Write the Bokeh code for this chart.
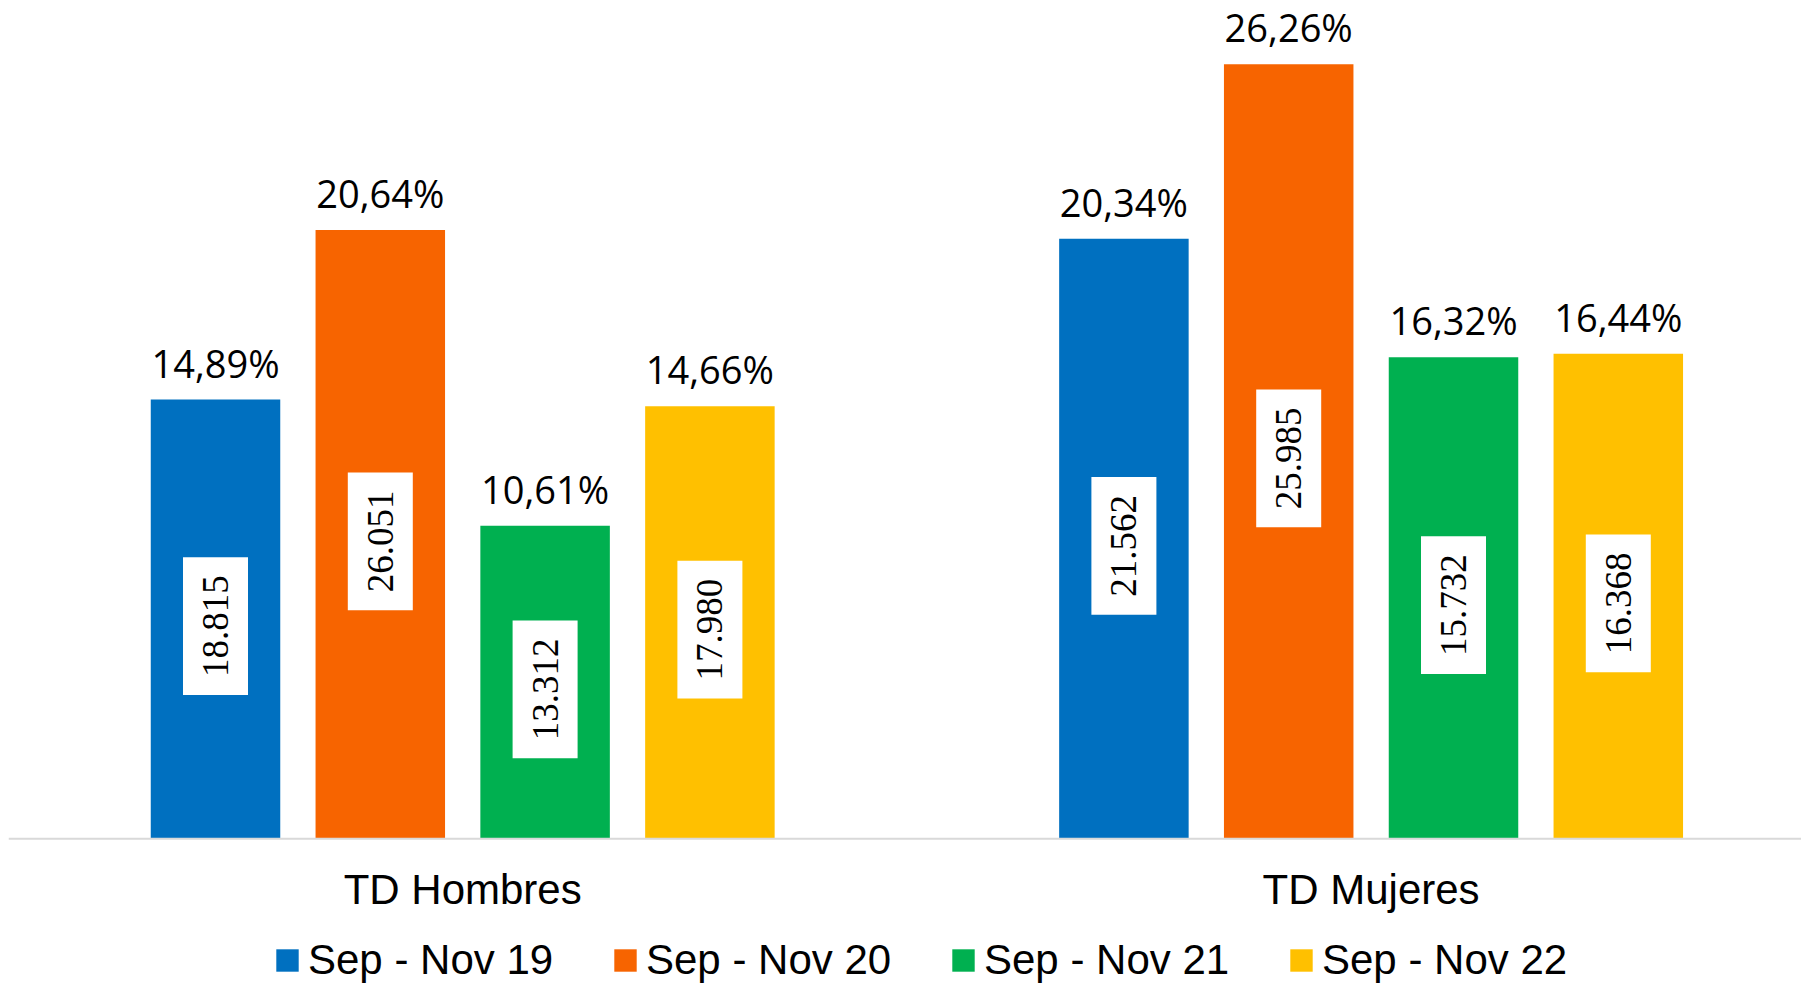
import math
from bokeh.plotting import figure
from bokeh.models import ColumnDataSource, Range1d, Span
from bokeh.transform import dodge
from bokeh.core.properties import value
from bokeh.embed import file_html
from bokeh.resources import INLINE

# ---- data ----
categories = ["TD Hombres", "TD Mujeres"]
series = ["Sep - Nov 19", "Sep - Nov 20", "Sep - Nov 21", "Sep - Nov 22"]
pct_19 = [14.89, 20.34]
pct_20 = [20.64, 26.26]
pct_21 = [10.61, 16.32]
pct_22 = [14.66, 16.44]
count_19 = [18815, 21562]
count_20 = [26051, 25985]
count_21 = [13312, 15732]
count_22 = [17980, 16368]

# ---- styles ----
colors = ["#0070C0", "#F76400", "#00B050", "#FFC000"]
W, H = 1801, 984
LEFT = 8
GROUP_PX = 908.4          # pixels per category
Y_PX = 29.5               # pixels per percentage point
ZERO_PX = 838.3           # screen y of the baseline
BAR_W = 129.5 / GROUP_PX
STEP = 164.8 / GROUP_PX

p = figure(width=W, height=H,
           x_range=Range1d(0, (W - LEFT) / GROUP_PX),
           y_range=Range1d(-(H - ZERO_PX) / Y_PX, ZERO_PX / Y_PX),
           output_backend="svg", toolbar_location=None,
           x_axis_location=None, y_axis_location=None,
           min_border_left=LEFT, min_border_right=0,
           min_border_top=0, min_border_bottom=0)
p.outline_line_color = None
p.xgrid.visible = False
p.ygrid.visible = False
p.background_fill_color = "white"
p.border_fill_color = "white"

xs = [i + 0.5 for i in range(len(categories))]
pcts = [pct_19, pct_20, pct_21, pct_22]
counts = [count_19, count_20, count_21, count_22]

def fmt_pct(v):
    return f"{v:.2f}%".replace(".", ",")

def fmt_count(v):
    return f"{v:,}".replace(",", ".")

# baseline (category axis line)
p.add_layout(Span(location=0, dimension="width", line_color="#D9D9D9",
                  line_width=2))

for k, name in enumerate(series):
    off = (k - 1.5) * STEP
    src = ColumnDataSource(dict(
        x=xs,
        top=pcts[k],
        mid=[v / 2 for v in pcts[k]],
        pct_label=[fmt_pct(v) for v in pcts[k]],
        count_label=[fmt_count(v) for v in counts[k]],
    ))
    p.vbar(x=dodge("x", off, range=p.x_range), top="top", width=BAR_W,
           fill_color=colors[k], line_color=None, source=src,
           legend_label=name)
    p.text(x=dodge("x", off, range=p.x_range), y="top", text="pct_label",
           source=src, text_align="center", text_baseline="alphabetic",
           y_offset=-37, text_font=value("Open Sans"),
           text_font_size="38px", text_color="#000000")
    p.text(x=dodge("x", off, range=p.x_range), y="mid", text="count_label",
           source=src, angle=math.pi / 2, text_align="center",
           text_baseline="middle", y_offset=7,
           text_font=value("Liberation Sans Narrow"),
           text_font_size="37px", text_color="#000000",
           background_fill_color="white",
           padding=dict(left=18, right=18, top=20, bottom=20))

# category labels
cat_src = ColumnDataSource(dict(x=xs, y=[0] * len(xs), label=categories))
p.text(x="x", y="y", text="label", source=cat_src, text_align="center",
       text_baseline="alphabetic", y_offset=51,
       text_font=value("Liberation Sans"), text_font_size="42px",
       text_color="#000000")

lg = p.legend[0]
lg.orientation = "horizontal"
lg.location = (265, 0)
lg.glyph_width = 28
lg.glyph_height = 28
lg.label_standoff = 7
lg.label_width = 250
lg.label_height = 48
lg.spacing = 53
lg.padding = 0
lg.margin = 0
lg.border_line_color = None
lg.background_fill_alpha = 0
lg.label_text_font = "Liberation Sans"
lg.label_text_font_size = "42px"
lg.label_text_color = "#000000"

open("out.html", "w").write(file_html(p, INLINE))
